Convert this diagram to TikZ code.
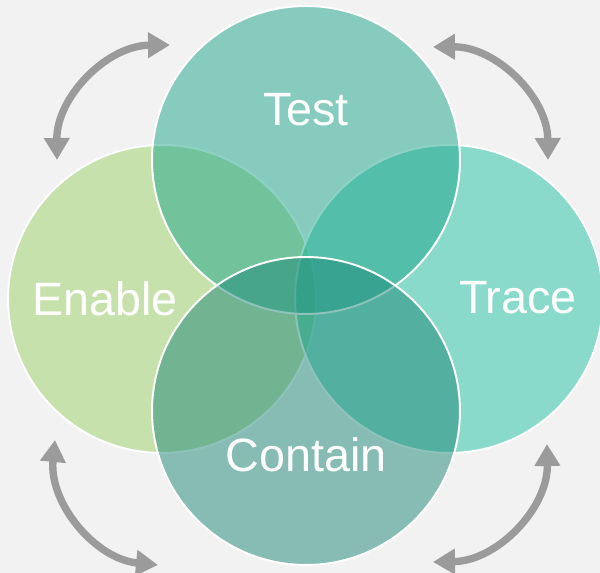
\documentclass[tikz,border=0pt]{standalone}
\usepackage{fontspec}
\setmainfont{Liberation Sans}
\usetikzlibrary{arrows.meta}

\definecolor{bggray}{HTML}{F2F2F2}
\definecolor{testcol}{HTML}{1EA68C}
\definecolor{enablecol}{HTML}{9ED268}
\definecolor{tracecol}{HTML}{22C4A6}
\definecolor{containcol}{HTML}{1E8878}
\definecolor{arrowgray}{HTML}{9B9B9B}

\begin{document}
\begin{tikzpicture}[x=0.02cm, y=-0.02cm,
    ring/.style={circle, draw=white, line width=1.1pt, fill opacity=0.5, minimum size=6.16cm, inner sep=0pt},
    word/.style={text=white, font=\fontsize{26.6}{31}\selectfont},
    cycle/.style={draw=arrowgray, line width=4.2pt, {Triangle[length=12.5pt, width=14pt]}-{Triangle[length=12.5pt, width=14pt]}}]
    % Fond
    \fill[bggray] (0,0) rectangle (600,573);
    \useasboundingbox (0,0) rectangle (600,573);

    % Cercles
    \node[ring, fill=enablecol]  (enable)  at (162,299) {};
    \node[ring, fill=tracecol]   (trace)   at (449,299) {};
    \node[ring, fill=testcol]    (test)    at (306,160) {};
    \node[ring, fill=containcol] (contain) at (306,411) {};

    % Textes
    \node[word] (ltest)    at (306,110) {Test};
    \node[word] (lenable)  at (105,299) {Enable};
    \node[word] (ltrace)   at (518,298) {Trace};
    \node[word] (lcontain) at (306,455) {Contain};

    % Extremites des fleches
    \coordinate (tl1) at (57,160);
    \coordinate (tl2) at (170,45);
    \coordinate (tr1) at (433,47);
    \coordinate (tr2) at (548,160);
    \coordinate (br1) at (547,444);
    \coordinate (br2) at (433,562);
    \coordinate (bl1) at (158,565);
    \coordinate (bl2) at (55,440);

    % Fleches
    \draw[cycle] (tl1) to[bend left=45] (tl2);
    \draw[cycle] (tr1) to[bend left=45] (tr2);
    \draw[cycle] (br1) to[bend left=45] (br2);
    \draw[cycle] (bl1) to[bend left=45] (bl2);
\end{tikzpicture}
\end{document}
